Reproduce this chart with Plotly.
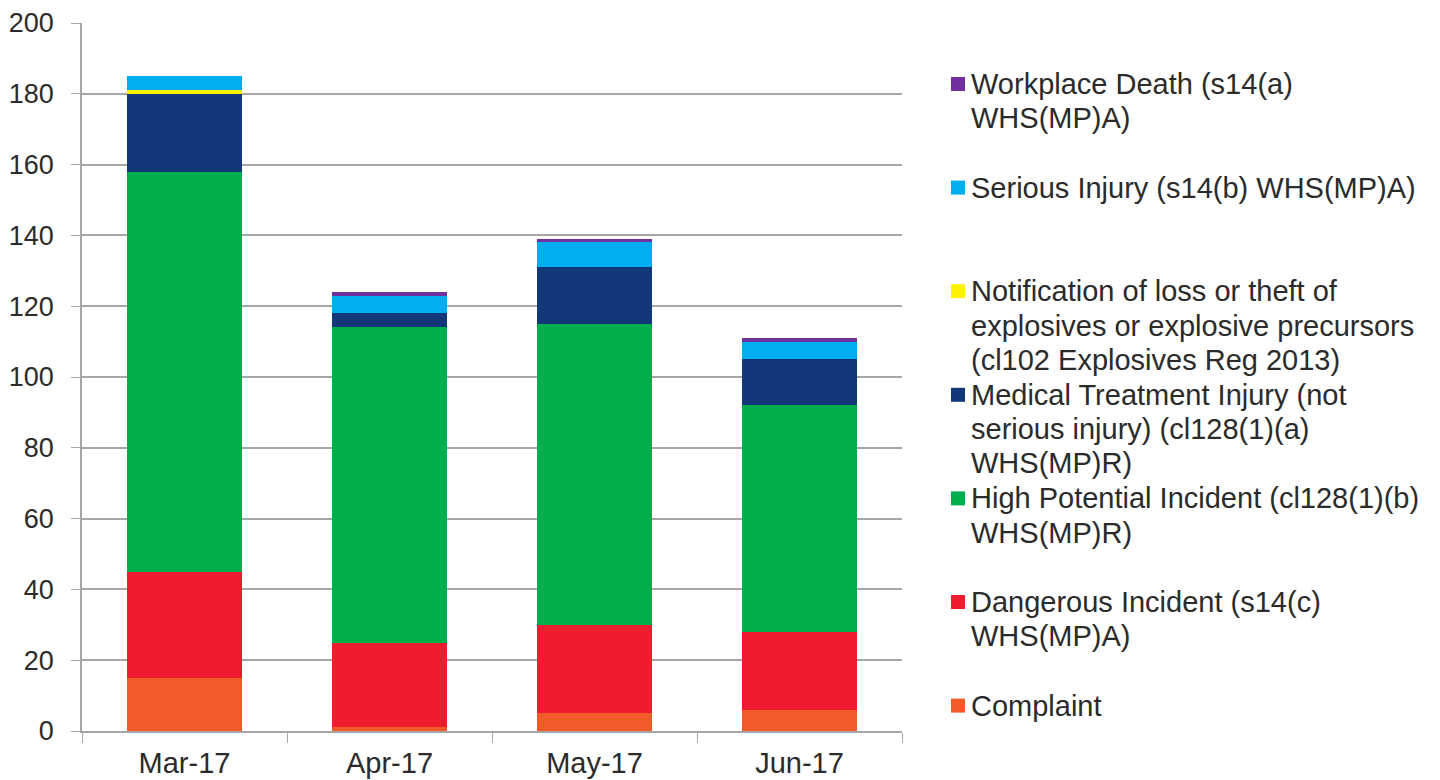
import plotly.graph_objects as go

months = ["Mar-17", "Apr-17", "May-17", "Jun-17"]
complaint = [15, 1, 5, 6]
dangerous = [30, 24, 25, 22]
high_potential = [113, 89, 85, 64]
medical = [22, 4, 16, 13]
notification = [1, 0, 0, 0]
serious = [4, 5, 7, 5]
death = [0, 1, 1, 1]

series = [
    ("Complaint", complaint, "#F15A29"),
    ("Dangerous Incident (s14(c)<br>WHS(MP)A)", dangerous, "#ED1C2E"),
    ("High Potential Incident (cl128(1)(b)<br>WHS(MP)R)", high_potential, "#00AE4D"),
    ("Medical Treatment Injury (not<br>serious injury) (cl128(1)(a)<br>WHS(MP)R)", medical, "#13387A"),
    ("Notification of loss or theft of<br>explosives or explosive precursors<br>(cl102 Explosives Reg 2013)", notification, "#FFF200"),
    ("Serious Injury (s14(b) WHS(MP)A)", serious, "#00AEEF"),
    ("Workplace Death (s14(a)<br>WHS(MP)A)", death, "#7030A0"),
]

OFF = 8  # page body margin
W, H = 1440 - OFF, 780 - OFF
L, R, T, B = 82 - OFF, 902 - OFF, 23 - OFF, 731 - OFF
FONT = "Liberation Sans, Arial, sans-serif"
TXT = "#2b2b2b"

fig = go.Figure()
for name, vals, color in series:
    fig.add_trace(go.Bar(
        x=months, y=vals, name=name.replace("<br>", " "),
        marker=dict(color=color, line=dict(width=0)),
        showlegend=False,
    ))

def px_to_paper(px, py):
    px -= OFF
    py -= OFF
    return (px - L) / (R - L), (B - py) / (B - T)

# Manual legend (Excel style: equal slots, top item = last series)
annotations = []
shapes = []
slot0, slot_h, line_h = 84, 103.6, 34.3
for i, (name, vals, color) in enumerate(reversed(series)):
    y0 = slot0 + slot_h * i
    sx0, sy0 = px_to_paper(951, y0 + 7)
    sx1, sy1 = px_to_paper(965, y0 - 7)
    shapes.append(dict(type="rect", xref="paper", yref="paper",
                       x0=sx0, x1=sx1, y0=sy0, y1=sy1,
                       fillcolor=color, line=dict(width=0)))
    for j, line in enumerate(name.split("<br>")):
        ax, ay = px_to_paper(969, y0 + line_h * j)
        annotations.append(dict(text=line, xref="paper", yref="paper",
                                x=ax, y=ay, xanchor="left", yanchor="middle",
                                showarrow=False,
                                font=dict(size=29, color=TXT, family=FONT)))

fig.update_layout(
    barmode="stack",
    bargap=0.44,
    width=W, height=H,
    margin=dict(l=L, r=W - R, t=T, b=H - B, autoexpand=False),
    paper_bgcolor="white", plot_bgcolor="white",
    font=dict(family=FONT, size=29, color=TXT),
    showlegend=False,
    annotations=annotations,
    shapes=shapes,
    xaxis=dict(
        showline=True, linecolor="#A6A6A6", linewidth=1.5,
        ticks="outside", tickson="boundaries", ticklen=10, tickcolor="#A6A6A6",
        ticklabelstandoff=5,
        tickfont=dict(size=29, color=TXT), showgrid=False, automargin=False,
    ),
    yaxis=dict(
        range=[0, 200], dtick=20, showline=True, linecolor="#A6A6A6", linewidth=1.5,
        gridcolor="#A6A6A6", gridwidth=1.5, ticks="outside", ticklen=9, tickcolor="#A6A6A6",
        ticklabelstandoff=12,
        tickfont=dict(size=27, color=TXT), zeroline=False, automargin=False,
    ),
)

fig.write_html("out.html")
